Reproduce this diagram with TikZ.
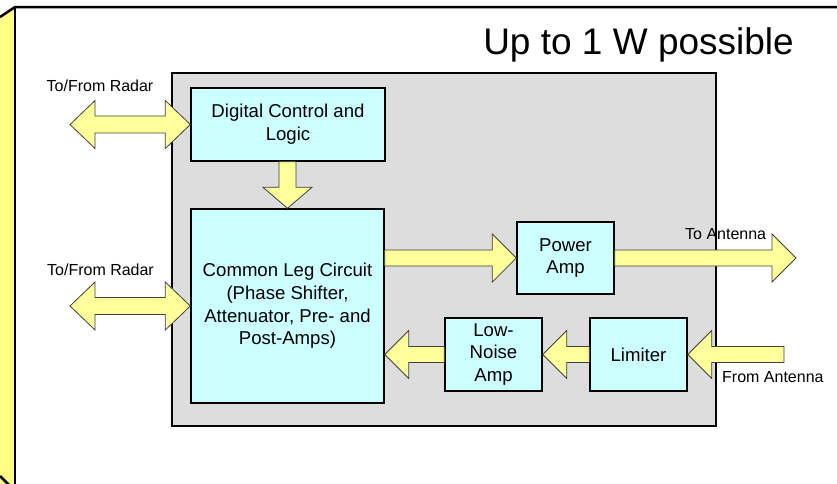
\documentclass[tikz,border=0pt]{standalone}
\usepackage{fontspec}
\setmainfont{Liberation Sans}
\usetikzlibrary{calc}

\definecolor{panelgray}{HTML}{DDDDDD}
\definecolor{boxcyan}{HTML}{CCFFFF}
\definecolor{arrowyellow}{HTML}{FFFF99}
\definecolor{sideyellow}{HTML}{FFFF88}

\tikzset{
  frameline/.style={draw=black, line width=2.5pt},
  panel/.style={draw=black, line width=2.2pt, fill=panelgray, inner sep=0pt},
  block/.style={draw=black, line width=1.4pt, fill=boxcyan, align=center, inner sep=0pt,
                font=\fontsize{18.6}{22.7}\selectfont},
  fatarrow/.style={draw=black!75, line width=0.8pt, fill=arrowyellow, line join=miter},
  lbl/.style={font=\fontsize{16}{19}\selectfont, inner sep=0pt},
}

% horizontal block arrow: #1 tail, #2 tip (shaft centred on the tip's height)
\newcommand{\hfat}[2]{%
  \path[fatarrow] let \p1=(#1), \p2=(#2), \p3=($(\p2)!24pt!(\x1,\y2)$) in
    (\x1,\y2+8pt) -- (\x3,\y2+8pt) -- (\x3,\y2+24pt) -- (\p2) --
    (\x3,\y2-24pt) -- (\x3,\y2-8pt) -- (\x1,\y2-8pt) -- cycle;}
% vertical block arrow: #1 tail, #2 tip
\newcommand{\vfat}[2]{%
  \path[fatarrow] let \p1=(#1), \p2=(#2), \p3=($(\p2)!21pt!(\x2,\y1)$) in
    (\x2+8.5pt,\y1) -- (\x2+8.5pt,\y3) -- (\x2+24.5pt,\y3) -- (\p2) --
    (\x2-24.5pt,\y3) -- (\x2-8.5pt,\y3) -- (\x2-8.5pt,\y1) -- cycle;}
% double-headed block arrow between #1 (left tip) and #2 (right tip)
\newcommand{\dfat}[2]{%
  \path[fatarrow] let \p1=(#1), \p2=(#2),
      \p3=($(\p1)!25pt!(\x2,\y1)$), \p4=($(\x2,\y1)!25pt!(\p1)$) in
    (\p1) -- (\x3,\y1+24pt) -- (\x3,\y1+8.5pt) -- (\x4,\y1+8.5pt) -- (\x4,\y1+24pt) --
    (\x2,\y1) -- (\x4,\y1-24pt) -- (\x4,\y1-8.5pt) -- (\x3,\y1-8.5pt) -- (\x3,\y1-24pt) -- cycle;}

\begin{document}
\begin{tikzpicture}[x=1pt, y=-1pt]
  \useasboundingbox (0,0) rectangle (837,483);

  % housing: yellow side face and front edges
  \begin{scope}
    \clip (0,0) rectangle (837,483);
    \fill[sideyellow] (0,17) -- (15,7) -- (15,495) -- (0,495) -- cycle;
    \draw[frameline] (0,17) -- (15,7) -- (850,7);
    \draw[frameline] (15,7) -- (15,495);
    \draw[frameline] (0,476) -- (9,485);
  \end{scope}

  \node[anchor=base east, inner sep=0pt, font=\fontsize{37}{41}\selectfont]
    (title) at (794,54.5) {Up to 1 W possible};

  % module panel
  \node[panel, minimum width=544pt, minimum height=353pt] (panel) at (444,249.5) {};

  % functional blocks
  \node[block, minimum width=194pt, minimum height=73pt] (digital) at (288,124.5)
    {Digital Control and\\Logic};
  \node[block, minimum width=193pt, minimum height=194pt] (common) at (287.5,306)
    {Common Leg Circuit\\(Phase Shifter,\\Attenuator, Pre- and\\Post-Amps)};
  \node[block, minimum width=97pt, minimum height=72pt] (pa) at (565.5,258)
    {Power\\Amp};
  \node[block, minimum width=97pt, minimum height=73pt] (lna) at (493.5,354.5)
    {Low-\\Noise\\Amp};
  \node[block, minimum width=97pt, minimum height=73pt] (limiter) at (638.5,354.5)
    {Limiter};

  % free ends of the external connections
  \coordinate (radarA) at (70,124.5);
  \coordinate (radarB) at (70,306);
  \coordinate (antOut) at (796,258);
  \coordinate (antIn)  at (784,354.5);

  % signal flow
  \dfat{radarA}{digital.west}
  \dfat{radarB}{common.west}
  \vfat{digital.south}{common.north}
  \hfat{common.east |- pa.west}{pa.west}
  \hfat{pa.east}{antOut}
  \hfat{antIn}{limiter.east}
  \hfat{limiter.west}{lna.east}
  \hfat{lna.west}{common.east |- lna.west}

  % labels
  \node[lbl] (lblRadarA) at (100,86) {To/From Radar};
  \node[lbl] (lblRadarB) at (100.5,270) {To/From Radar};
  \node[lbl, anchor=west] (lblAntOut) at (685,234) {To Antenna};
  \node[lbl, anchor=west] (lblAntIn) at (722,377) {From Antenna};
\end{tikzpicture}
\end{document}
